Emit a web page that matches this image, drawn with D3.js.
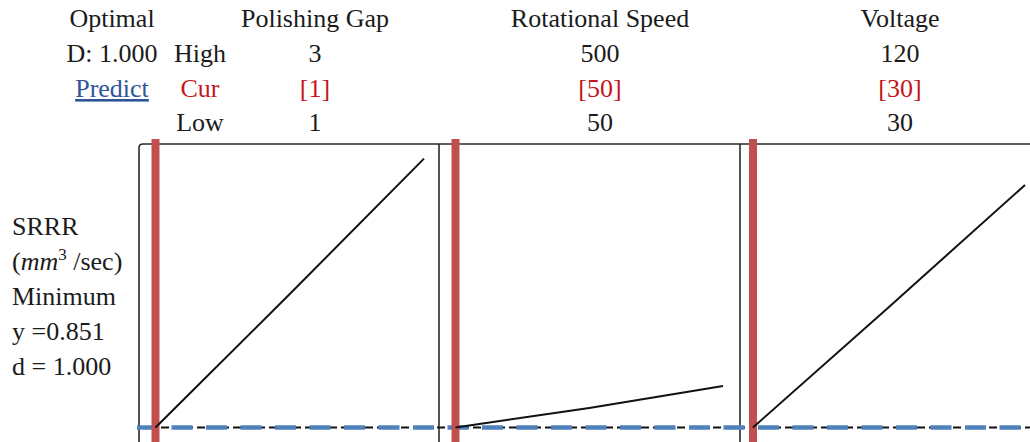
<!DOCTYPE html>
<html>
<head>
<meta charset="utf-8">
<script src="https://cdn.jsdelivr.net/npm/d3@7"></script>
<style>
  html, body { margin: 0; padding: 0; background: #ffffff; }
  svg { display: block; font-family: "Liberation Serif", "Times New Roman", serif; }
</style>
</head>
<body>
<svg id="chart" width="1030" height="442"></svg>
<script>
// Factor settings for the optimisation ramp
const factorNames = ["Polishing Gap", "Rotational Speed", "Voltage"];
const highLevels = [3, 500, 120];
const lowLevels = [1, 50, 30];
const currentLevels = [1, 50, 30];

// Predicted SRRR response along each factor (others held at current settings)
const gapLevels = [1, 2, 3];
const srrrVsGap = [0.851, 1.58, 2.32];
const speedLevels = [50, 275, 500];
const srrrVsSpeed = [0.851, 0.958, 1.078];
const voltageLevels = [30, 75, 120];
const srrrVsVoltage = [0.851, 1.51, 2.176];

// Response summary
const responseName = "SRRR";
const goal = "Minimum";
const predictedSRRR = 0.851;
const desirability = 1.000;

const factorLevels = [gapLevels, speedLevels, voltageLevels];
const responseValues = [srrrVsGap, srrrVsSpeed, srrrVsVoltage];

const svg = d3.select("#chart");
const W = 1030, H = 442;

// Panel layout
const panelLeft = [139, 439, 740];
const xRanges = [[155.5, 424], [455.5, 723], [753, 1025]];
const frameTop = 144;
const y = d3.scaleLinear().domain([0.851, 2.4]).range([427.5, frameTop]);

const ink = "#1b1b1b";
const curRed = "#c4161c";
const barRed = "#c0504d";
const dashBlue = "#4f81bd";
const fs = 26;

// Header text block
const rowY = [27, 62, 97, 131];
const leftColX = 112, rowLabelX = 200;
const colX = [315, 600, 900];

const hdr = svg.append("g").attr("font-size", fs).attr("text-anchor", "middle");
hdr.append("text").attr("x", leftColX).attr("y", rowY[0]).attr("fill", ink).text("Optimal");
hdr.append("text").attr("x", leftColX).attr("y", rowY[1]).attr("fill", ink)
  .text("D: " + d3.format(".3f")(desirability));
hdr.append("text").attr("x", leftColX).attr("y", rowY[2]).attr("fill", "#2f5597")
  .style("text-decoration", "underline").text("Predict");
hdr.append("text").attr("x", rowLabelX).attr("y", rowY[1]).attr("fill", ink).text("High");
hdr.append("text").attr("x", rowLabelX).attr("y", rowY[2]).attr("fill", curRed).text("Cur");
hdr.append("text").attr("x", rowLabelX).attr("y", rowY[3]).attr("fill", ink).text("Low");

factorNames.forEach((name, i) => {
  hdr.append("text").attr("x", colX[i]).attr("y", rowY[0]).attr("fill", ink).text(name);
  hdr.append("text").attr("x", colX[i]).attr("y", rowY[1]).attr("fill", ink).text(highLevels[i]);
  hdr.append("text").attr("x", colX[i]).attr("y", rowY[2]).attr("fill", curRed).text("[" + currentLevels[i] + "]");
  hdr.append("text").attr("x", colX[i]).attr("y", rowY[3]).attr("fill", ink).text(lowLevels[i]);
});

// Response label on the left
const lab = svg.append("g").attr("font-size", fs).attr("fill", ink);
const labX = 12, labY = [235, 270, 305, 340, 375];
lab.append("text").attr("x", labX).attr("y", labY[0]).text(responseName);
const unit = lab.append("text").attr("x", labX).attr("y", labY[1]);
unit.append("tspan").text("(");
unit.append("tspan").attr("font-style", "italic").text("mm");
unit.append("tspan").attr("font-size", 17).attr("dy", -10).text("3");
unit.append("tspan").attr("dy", 10).text(" /sec)");
lab.append("text").attr("x", labX).attr("y", labY[2]).text(goal);
lab.append("text").attr("x", labX).attr("y", labY[3]).text("y =" + d3.format(".3f")(predictedSRRR));
lab.append("text").attr("x", labX).attr("y", labY[4]).text("d = " + d3.format(".3f")(desirability));

// Panel frame
const frame = svg.append("g").attr("fill", "none").attr("stroke", "#2a2a2a").attr("stroke-width", 1.6);
frame.append("path")
  .attr("d", `M${panelLeft[0]},${H + 10} V${frameTop + 4} Q${panelLeft[0]},${frameTop} ${panelLeft[0] + 4},${frameTop} H${W + 5}`);
panelLeft.slice(1).forEach(px => {
  frame.append("line").attr("x1", px).attr("x2", px).attr("y1", frameTop).attr("y2", H + 10);
});

// Predicted response reference line (black dashed under blue dashed)
const yPred = y(predictedSRRR);
svg.append("line")
  .attr("x1", panelLeft[0] - 2).attr("x2", W)
  .attr("y1", yPred).attr("y2", yPred)
  .attr("stroke", "#111").attr("stroke-width", 2)
  .attr("stroke-dasharray", "8 4");
svg.append("line")
  .attr("x1", panelLeft[0] - 2).attr("x2", W)
  .attr("y1", yPred).attr("y2", yPred)
  .attr("stroke", dashBlue).attr("stroke-width", 4.5)
  .attr("stroke-dasharray", "21 13.5");

// Per-factor panels: current-setting bar and response line
factorNames.forEach((name, i) => {
  const x = d3.scaleLinear().domain([lowLevels[i], highLevels[i]]).range(xRanges[i]);
  const pts = factorLevels[i].map((lv, j) => [lv, responseValues[i][j]]);

  svg.append("line")
    .attr("x1", x(currentLevels[i])).attr("x2", x(currentLevels[i]))
    .attr("y1", frameTop - 5).attr("y2", H + 10)
    .attr("stroke", barRed).attr("stroke-width", 8);

  svg.append("path")
    .datum(pts)
    .attr("fill", "none")
    .attr("stroke", "#111")
    .attr("stroke-width", 2)
    .attr("d", d3.line().x(d => x(d[0])).y(d => y(d[1])));
});
</script>
</body>
</html>
